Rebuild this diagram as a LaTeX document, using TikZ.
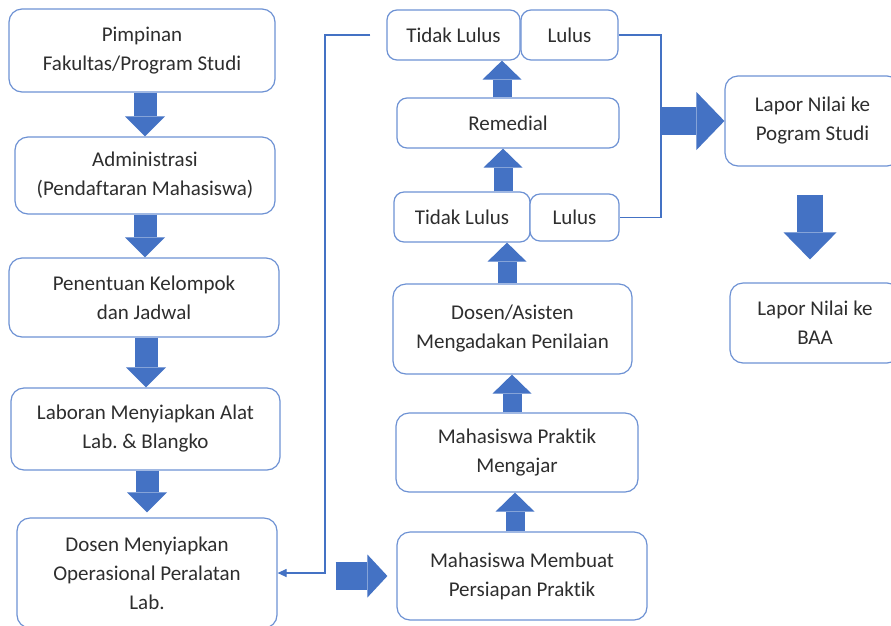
\documentclass[tikz,border=0pt]{standalone}
\usepackage{fontspec}
\setmainfont{Carlito}[Ligatures=CommonOff]
\frenchspacing
\usetikzlibrary{arrows.meta}
\definecolor{boxline}{HTML}{6E92D4}
\definecolor{arrowblue}{HTML}{4472C4}
\definecolor{textgray}{HTML}{2E2E2E}
\tikzset{
  box/.style={draw=boxline, line width=1.2pt, rounded corners=13pt, fill=white,
    align=center, text=textgray, inner sep=0pt, font=\fontsize{21}{29}\selectfont},
  fat/.style n args={3}{draw=arrowblue, line width=#1pt,
    -{Triangle[width=#2pt,length=#3pt,line width=0pt]}},
  thin/.style={draw=arrowblue, line width=1.2pt}
}
\begin{document}
\begin{tikzpicture}[x=1pt,y=-1pt]
      \path[use as bounding box, fill=white] (0,0) rectangle (891,625);
      \draw
        (142,50.5) node[box, minimum width=266, minimum height=83] (pimpinan) {Pimpinan\\Fakultas/Program Studi}
        (145,175.5) node[box, minimum width=260, minimum height=77] (admin) {Administrasi\\(Pendaftaran Mahasiswa)}
        (144,297.5) node[box, minimum width=270, minimum height=79] (kelompok) {Penentuan Kelompok\\dan Jadwal}
        (145.5,429) node[box, minimum width=269, minimum height=82] (laboran) {Laboran Menyiapkan Alat\\Lab. \& Blangko}
        (147,573) node[box, minimum width=260, minimum height=110] (dosen) {Dosen Menyiapkan\\Operasional Peralatan\\Lab.}
        (522,576) node[box, minimum width=250, minimum height=88] (membuat) {Mahasiswa Membuat\\Persiapan Praktik}
        (517,452.5) node[box, minimum width=242, minimum height=79] (praktik) {Mahasiswa Praktik\\Mengajar}
        (512.5,329) node[box, minimum width=239, minimum height=90] (nilai) {Dosen/Asisten\\Mengadakan Penilaian}
        (462,217) node[box, rounded corners=10pt, minimum width=136, minimum height=50] (gagal1) {Tidak Lulus}
        (574.5,217.5) node[box, rounded corners=10pt, minimum width=89, minimum height=47] (lulus1) {Lulus}
        (508,123) node[box, rounded corners=10pt, minimum width=222, minimum height=50] (remedial) {Remedial}
        (453.5,35) node[box, rounded corners=10pt, minimum width=133, minimum height=50] (gagal2) {Tidak Lulus}
        (569.5,35) node[box, rounded corners=10pt, minimum width=97, minimum height=50] (lulus2) {Lulus}
        (812.5,121) node[box, minimum width=175, minimum height=90] (prodi) {Lapor Nilai ke\\Pogram Studi}
        (815,323) node[box, minimum width=170, minimum height=80] (baa) {Lapor Nilai ke\\BAA};
      \begin{scope}[fat={23}{40}{20}]
        \draw (145,0 |- pimpinan.south) to (145,0 |- admin.north);
        \draw (145,0 |- admin.south) to (145,0 |- kelompok.north);
        \draw (146,0 |- kelompok.south) to (146,0 |- laboran.north);
        \draw[shorten >=5pt] (147,0 |- laboran.south) to (147,0 |- dosen.north);
      \end{scope}
      \begin{scope}[fat={19}{39}{19}]
        \draw (515,0 |- membuat.north) to (515,0 |- praktik.south);
        \draw (512,0 |- praktik.north) to (512,0 |- nilai.south);
        \draw (507,0 |- nilai.north) to (507,0 |- gagal1.south);
        \draw (503,0 |- gagal1.north) to (503,0 |- remedial.south);
        \draw (502,0 |- remedial.north) to (502,0 |- gagal2.south);
      \end{scope}
      \draw[fat={28}{43}{20}, shorten <=58pt, shorten >=9pt] (dosen.east |- membuat.west) to (membuat.west);
      \draw[fat={28}{58}{28}] (661,0 |- prodi.west) to (prodi.west);
      \draw[fat={26}{53}{27}, shorten <=28pt, shorten >=23pt] (810,0 |- prodi.south) to (810,0 |- baa.north);
      \begin{scope}[thin]
        \draw[shorten <=16pt, -{Triangle[length=9pt,width=8pt]}] (gagal2.west) -- (325,0 |- gagal2.west) |- (dosen.east);
        \draw (lulus2.east) -- (661,0 |- lulus2.east) |- (lulus1.east);
      \end{scope}
    \end{tikzpicture}
\end{document}
